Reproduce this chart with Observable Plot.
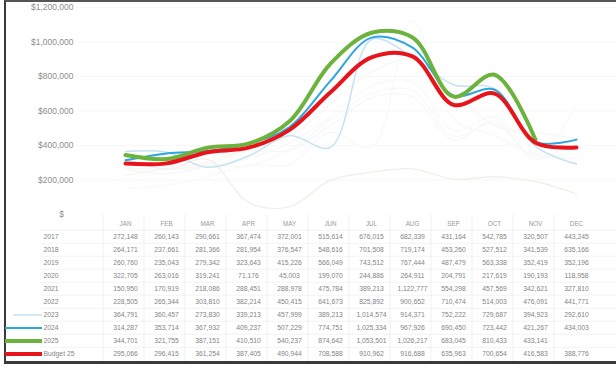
<!DOCTYPE html>
<html>
<head>
<meta charset="utf-8">
<script src="https://cdn.jsdelivr.net/npm/d3@7"></script>
<script src="https://cdn.jsdelivr.net/npm/@observablehq/plot@0.6"></script>
<style>
  html, body { margin: 0; padding: 0; background: #fff; }
  #wrap { position: relative; width: 616px; height: 366px; overflow: hidden; background: #fff; }
  #frame { position: absolute; left: 4px; top: 0; width: 640px; height: 359px;
           border-left: 2px solid #3a3a3a; border-top: 2px solid #555; border-bottom: 3px solid #3a3a3a; }
  #chart { position: absolute; left: 0; top: 0; }
  #table { position: absolute; left: 0; top: 214px; }
</style>
</head>
<body>
<div id="wrap">
  <div id="frame"></div>
  <div id="chart"></div>
  <div id="table"></div>
</div>
<script>
const months = ["JAN","FEB","MAR","APR","MAY","JUN","JUL","AUG","SEP","OCT","NOV","DEC"];
const seriesNames = ["2017","2018","2019","2020","2021","2022","2023","2024","2025","Budget 25"];

const v2017 = [272148, 260143, 290661, 367474, 372001, 515614, 676015, 682339, 431164, 542785, 320507, 443245];
const v2018 = [264171, 237661, 281366, 281954, 376547, 548616, 701508, 719174, 453260, 527512, 341539, 635166];
const v2019 = [260760, 235043, 279342, 323643, 415226, 566049, 743512, 767444, 487479, 563338, 352419, 352196];
const v2020 = [322705, 263016, 319241, 71176, 45003, 199070, 244886, 264911, 204791, 217619, 190193, 118958];
const v2021 = [150950, 170919, 218086, 288451, 288978, 475784, 389213, 1122777, 554298, 457569, 342621, 327810];
const v2022 = [228505, 265344, 303810, 382214, 450415, 641673, 825892, 900652, 710474, 514003, 476091, 441771];
const v2023 = [364791, 360457, 273830, 339213, 457999, 389213, 1014574, 914371, 752222, 729687, 394923, 292610];
const v2024 = [314287, 353714, 367932, 409237, 507229, 774751, 1025334, 967926, 690450, 723442, 421267, 434003];
const v2025 = [344701, 321755, 387151, 410510, 540237, 874642, 1053501, 1026217, 683045, 810433, 433141, null];
const vBudget = [295066, 296415, 361254, 387405, 490944, 708588, 910962, 916688, 635963, 700654, 416583, 388776];

const yTicks = [0, 200000, 400000, 600000, 800000, 1000000, 1200000];

const seriesValues = [v2017, v2018, v2019, v2020, v2021, v2022, v2023, v2024, v2025, vBudget];

// styles (kept separate from data)
const lineStyle = {
  "2017": {stroke: "#f8f7f4", w: 1.2},
  "2018": {stroke: "#f7f8f9", w: 1.2},
  "2019": {stroke: "#f8f8f5", w: 1.2},
  "2020": {stroke: "#efede6", w: 1.2},
  "2021": {stroke: "#f6f8f9", w: 1.2},
  "2022": {stroke: "#f7f6f3", w: 1.2},
  "2023": {stroke: "#c6e2f1", w: 1.5},
  "2024": {stroke: "#2ba6de", w: 2},
  "2025": {stroke: "#6cb33e", w: 4},
  "Budget 25": {stroke: "#e8141c", w: 4}
};
const keyInsetLeft = {"2023": 13, "2024": 5, "2025": 5, "Budget 25": 5};

const rows = [];
seriesNames.forEach((s, i) => {
  seriesValues[i].forEach((v, j) => {
    if (v != null) rows.push({series: s, month: months[j], value: v});
  });
});

const font = "'Liberation Sans', 'DejaVu Sans', sans-serif";
const xScale = {type: "point", domain: months, range: [103, 598], axis: null};

const chart = Plot.plot({
  width: 616, height: 222,
  marginTop: 7, marginBottom: 8, marginLeft: 76, marginRight: 0,
  x: xScale,
  y: {domain: [0, 1200000], axis: null},
  style: {fontFamily: font, fontSize: "8.5px", color: "#8e8e8e", background: "transparent"},
  marks: [
    Plot.gridY(yTicks.slice(1), {stroke: "#000", strokeOpacity: 0.03}),
    Plot.axisY({ticks: yTicks, tickSize: 0, tickPadding: 3, label: null,
      tickFormat: d => d === 0 ? "$\u00a0\u00a0\u00a0\u00a0" : "$" + d3.format(",")(d)}),
    ...seriesNames.map(s => Plot.line(rows.filter(r => r.series === s), {
      x: "month", y: "value", curve: "catmull-rom",
      stroke: lineStyle[s].stroke, strokeWidth: lineStyle[s].w,
      strokeLinejoin: "round", strokeLinecap: "round"
    }))
  ]
});
document.getElementById("chart").appendChild(chart);

const tableRows = ["", ...seriesNames];
const tableH = 149;
const step = tableH / tableRows.length;

const table = Plot.plot({
  width: 616, height: tableH, margin: 0,
  x: xScale,
  y: {type: "band", domain: tableRows, range: [0, tableH], padding: 0, axis: null},
  style: {fontFamily: font, fontSize: "6.8px", color: "#8a8a8a", background: "transparent"},
  marks: [
    Plot.ruleY(seriesNames, {y: d => d, dy: -step / 2, stroke: "#000", strokeOpacity: 0.05, insetLeft: 40}),
    Plot.ruleX(months, {x: d => d, dx: -22.5, stroke: "#000", strokeOpacity: 0.06}),
    Plot.text(months, {x: d => d, y: () => "", text: d => d, fontSize: 6.3, fill: "#999"}),
    Plot.text(rows, {x: "month", y: "series", text: d => d3.format(",")(d.value), fill: "#858585"}),
    Plot.text(seriesNames, {y: d => d, text: d => d, frameAnchor: "left", dx: 43, textAnchor: "start", fill: "#858585"}),
    ...Object.keys(keyInsetLeft).map(s => Plot.ruleY([s], {
      y: d => d, stroke: lineStyle[s].stroke, strokeWidth: lineStyle[s].w,
      insetLeft: keyInsetLeft[s], insetRight: 616 - 42
    }))
  ]
});
document.getElementById("table").appendChild(table);
</script>
</body>
</html>
